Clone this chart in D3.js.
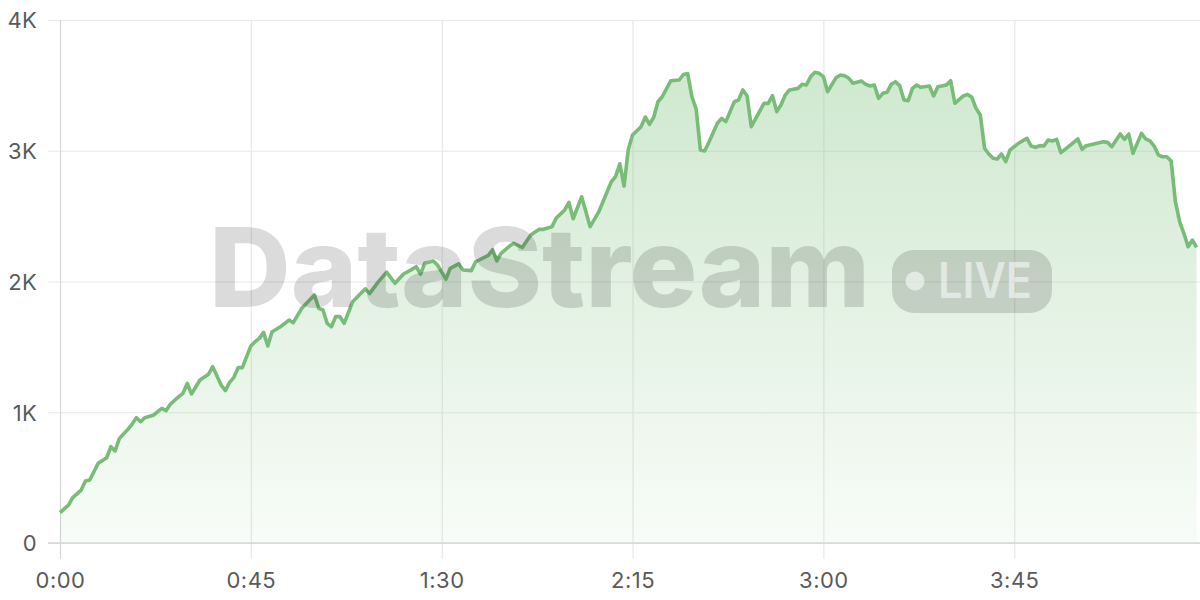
<!DOCTYPE html>
<html>
<head>
<meta charset="utf-8">
<script src="https://cdn.jsdelivr.net/npm/d3@7"></script>
<style>
  html, body { margin: 0; padding: 0; background: #fff; }
  svg { display: block; }
</style>
</head>
<body>
<svg id="chart" width="1200" height="600"></svg>
<script>
// ---- data (minutes since start, value) ----
const times = [0,2,3,5,6,7,9,11,12,13,14,16,17,18,19,20,22,24,25,26,28,29,30,31,33,35,36,38,39,40,41,42,43,45,46,47,48,49,50,52,54,55,57,60,61,62,63,64,65,66,67,69,72,73,75,77,79,81,83,84,85,86,88,89,91,92,94,95,97,98,101,102,103,104,106,107,109,111,113,114,116,117,119,120,121,123,125,127,130,131,132,133,134,135,137,138,139,140,141,142,144,146,147,148,149,150,151,152,153,155,156,157,159,160,161,162,163,166,167,168,169,170,171,172,174,175,176,177,178,179,180,181,183,184,185,186,187,189,190,191,192,193,194,195,196,197,198,199,200,201,202,203,205,206,207,209,210,211,213,214,215,216,217,218,219,220,221,222,223,224,226,228,229,230,231,232,233,234,235,236,237,240,241,242,246,247,248,250,251,252,253,255,256,257,258,259,260,261,262,263,264,265,266,267,268];
const values = [232,290,347,405,474,482,609,652,737,704,800,869,910,958,928,958,977,1030,1012,1061,1119,1145,1221,1140,1247,1290,1348,1208,1165,1229,1267,1341,1341,1507,1540,1565,1611,1507,1616,1654,1705,1685,1795,1897,1795,1782,1680,1654,1731,1731,1680,1845,1944,1907,1995,2071,1986,2057,2093,2113,2056,2139,2157,2126,2018,2101,2135,2088,2083,2151,2200,2243,2157,2216,2271,2292,2260,2356,2399,2399,2419,2485,2547,2605,2480,2648,2419,2530,2763,2802,2900,2730,3010,3120,3184,3258,3202,3256,3375,3413,3535,3541,3583,3590,3413,3318,3006,2998,3065,3210,3248,3223,3375,3388,3465,3421,3184,3362,3362,3421,3299,3350,3426,3465,3477,3508,3503,3567,3600,3592,3567,3452,3559,3579,3574,3554,3516,3533,3508,3495,3503,3401,3439,3447,3508,3528,3498,3388,3383,3477,3503,3485,3495,3419,3490,3503,3536,3363,3419,3431,3409,3324,3273,3019,2975,2942,2937,2975,2916,3006,3057,3095,3036,3026,3039,3036,3082,3075,3087,2985,3011,3090,3011,3039,3069,3064,3031,3128,3087,3128,2980,3133,3090,3075,3036,2967,2954,2954,2922,2610,2457,2369,2266,2317,2261];
const xTicks = [0,45,90,135,180,225];
const xTickLabels = ["0:00","0:45","1:30","2:15","3:00","3:45"];
const yTicks = [0,1000,2000,3000,4000];
const yTickLabels = ["0","1K","2K","3K","4K"];
const watermarkText = "DataStream";
const badgeText = "LIVE";

const data = times.map((t, i) => ({ t, v: values[i] }));

const svg = d3.select("#chart");
const x = d3.scaleLinear().domain([0, 268]).range([60, 1196.6]);
const y = d3.scaleLinear().domain([0, 4000]).range([543, 20]);

const font = "Inter, 'Helvetica Neue', Arial, sans-serif";
const lineColor = "#77bd77";

// gradient
const defs = svg.append("defs");
const grad = defs.append("linearGradient")
  .attr("id", "areaGrad").attr("gradientUnits", "userSpaceOnUse")
  .attr("x1", 0).attr("x2", 0).attr("y1", y(4000)).attr("y2", y(0));
grad.append("stop").attr("offset", "0%").attr("stop-color", lineColor).attr("stop-opacity", 0.38);
grad.append("stop").attr("offset", "100%").attr("stop-color", lineColor).attr("stop-opacity", 0.05);

// horizontal grid
const yAxis = d3.axisLeft(y).tickValues(yTicks)
  .tickSize(-(1200 - 48)).tickFormat((d, i) => yTickLabels[i]).tickPadding(0);
const gy = svg.append("g").attr("transform", "translate(48,0)").call(yAxis);
gy.select(".domain").remove();
gy.selectAll(".tick line").attr("stroke", "#e8e8e8").attr("stroke-width", 1.2);
gy.selectAll(".tick text").attr("x", -11).attr("dy", "0.36em")
  .attr("fill", "#5a5a5a").style("font-family", font).style("font-size", "22px")
  .style("letter-spacing", "0.3px");

// vertical grid
const xAxis = d3.axisBottom(x).tickValues(xTicks)
  .tickSize(-(543 - 20) - 16).tickFormat((d, i) => xTickLabels[i]).tickPadding(0);
const gx = svg.append("g").attr("transform", "translate(0,559)").call(xAxis);
gx.select(".domain").remove();
gx.selectAll(".tick line").attr("stroke", (d) => d === 0 ? "#d6d6d6" : "#e8e8e8").attr("stroke-width", 1.2);
gx.selectAll(".tick text").attr("y", 21).attr("dy", "0.36em")
  .attr("fill", "#5a5a5a").style("font-family", font).style("font-size", "22px")
  .style("letter-spacing", "0.5px");

// area
const area = d3.area().x(d => x(d.t)).y0(y(0)).y1(d => y(d.v));
svg.append("path").datum(data).attr("d", area).attr("fill", "url(#areaGrad)");

// baseline
svg.append("line").attr("x1", 48).attr("x2", 1200).attr("y1", y(0)).attr("y2", y(0))
  .attr("stroke", "#d6d6d6").attr("stroke-width", 1.5);

// line
const line = d3.line().x(d => x(d.t)).y(d => y(d.v));
svg.append("path").datum(data).attr("d", line).attr("fill", "none")
  .attr("stroke", lineColor).attr("stroke-width", 3.6).attr("stroke-linejoin", "round");

// watermark
const wm = svg.append("g");
wm.append("text").text(watermarkText)
  .attr("x", 209).attr("y", 307)
  .attr("fill", "#000").attr("fill-opacity", 0.14)
  .style("font-family", font).style("font-weight", 800).style("font-size", "110px")
  .attr("textLength", 661).attr("lengthAdjust", "spacingAndGlyphs");

wm.append("rect").attr("x", 892).attr("y", 250).attr("width", 160).attr("height", 63)
  .attr("rx", 22).attr("fill", "#000").attr("fill-opacity", 0.14);
wm.append("circle").attr("cx", 915).attr("cy", 281).attr("r", 9.5)
  .attr("fill", "#fff").attr("fill-opacity", 0.55);
wm.append("text").text(badgeText).attr("x", 938).attr("y", 298)
  .attr("fill", "#fff").attr("fill-opacity", 0.55)
  .style("font-family", font).style("font-weight", 600).style("font-size", "49px")
  .attr("textLength", 94).attr("lengthAdjust", "spacingAndGlyphs");
</script>
</body>
</html>
